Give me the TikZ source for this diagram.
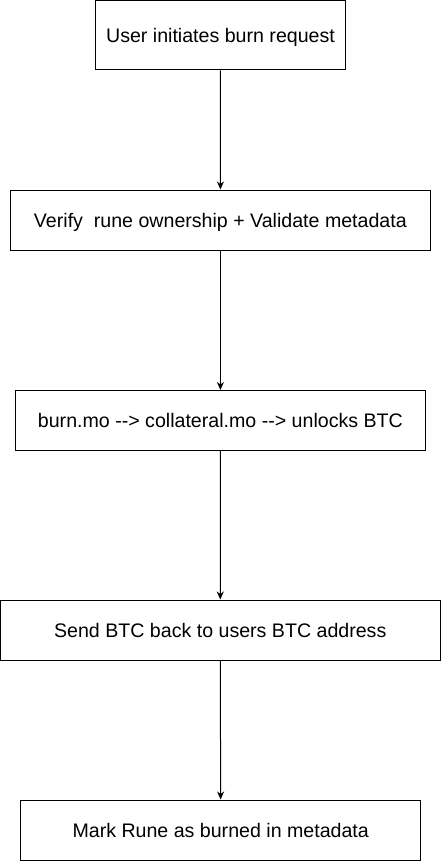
\documentclass[tikz,border=0pt]{standalone}
\usepackage{fontspec}
\setmainfont{Liberation Sans}
\usetikzlibrary{arrows.meta}
\begin{document}
\begin{tikzpicture}[x=1pt,y=-1pt,
  stepbox/.style={draw=black,line width=1pt,fill=white,inner sep=0pt,text depth=0pt,font=\fontsize{19.6}{23}\selectfont},
  flow/.style={draw=black,line width=1pt,-{Stealth[length=8pt,width=7pt,inset=2.5pt]}}]
\useasboundingbox (0,0) rectangle (441,861);
\node[stepbox,minimum width=250pt,minimum height=69.5pt] (a) at (220.5,35.25) {User initiates burn request};
\node[stepbox,minimum width=419.5pt,minimum height=60pt] (b) at (220.4,220) {Verify\ \ rune ownership + Validate metadata};
\node[stepbox,minimum width=410.5pt,minimum height=60pt] (c) at (220.4,420.5) {burn.mo {-}{-}> collateral.mo {-}{-}> unlocks BTC};
\node[stepbox,minimum width=439.5pt,minimum height=60pt] (d) at (220.25,630) {Send BTC back to users BTC address};
\node[stepbox,minimum width=400pt,minimum height=60pt] (e) at (220.7,830) {Mark Rune as burned in metadata};
\draw[flow] (a) -- (b);
\draw[flow] (b) -- (c);
\draw[flow] (c) -- (d);
\draw[flow] (d) -- (e);
\end{tikzpicture}
\end{document}
